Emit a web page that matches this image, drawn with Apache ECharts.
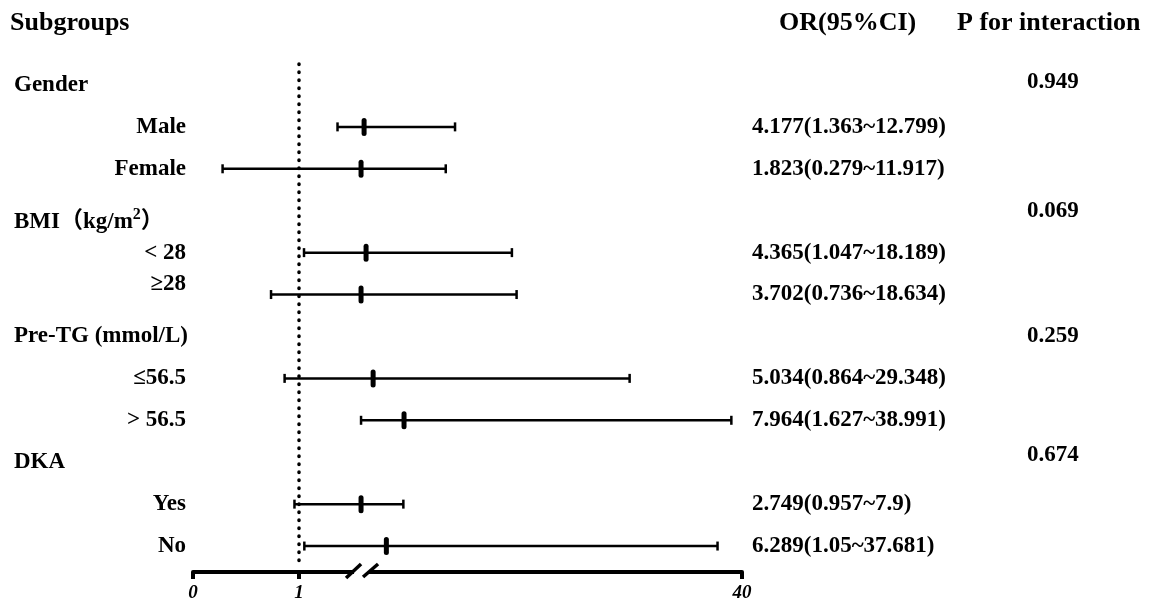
<!DOCTYPE html>
<html>
<head>
<meta charset="utf-8">
<script src="https://cdn.jsdelivr.net/npm/echarts@6/dist/echarts.min.js"></script>
<style>
  html, body { margin: 0; padding: 0; background: #fff; }
  #chart { width: 1163px; height: 606px; }
</style>
</head>
<body>
<div id="chart"></div>
<script>
// groups, their p for interaction and the subgroup rows under each
const groups = ['Gender', 'BMI（kg/m{sup|2}）', 'Pre-TG (mmol/L)', 'DKA'];
const pInteraction = ['0.949', '0.069', '0.259', '0.674'];
const subgroups = [['Male', 'Female'], ['< 28', '≥28'], ['≤56.5', '> 56.5'], ['Yes', 'No']];

// OR and 95% CI, in subgroup order
const orValues = [4.177, 1.823, 4.365, 3.702, 5.034, 7.964, 2.749, 6.289];
const ciLower = [1.363, 0.279, 1.047, 0.736, 0.864, 1.627, 0.957, 1.05];
const ciUpper = [12.799, 11.917, 18.189, 18.634, 29.348, 38.991, 7.9, 37.681];

// x axis ticks (axis is broken after 1)
const tickValues = [0, 1, 40];

// broken scale: 0..1 full width, then compressed part up to 40
const BREAK_AT = 1.585;
const SEG2_OFFSET = 1.198;
const SEG2_SLOPE = 0.0995;
const toAxis = (v) => v <= BREAK_AT ? v : Math.max(BREAK_AT, SEG2_OFFSET + SEG2_SLOPE * v);

const FONT = '"Liberation Serif", "Times New Roman", "Noto Sans CJK SC", serif';
const BLACK = '#000000';

// a few labels sit a bit off their row in the original
const labelNudge = { 'BMI（kg/m{sup|2}）': 11, '≥28': -10, '0.674': -7, '0.949': -3 };
const nudged = (text, align) => {
  const n = labelNudge[text];
  if (!n) return text;
  return { value: text, textStyle: { align: align, padding: n > 0 ? [2 * n, 0, 0, 0] : [0, 0, -2 * n, 0] } };
};

// build the row list (header row + subgroup rows)
const headerLabels = [];
const subLabels = [];
const orLabels = [];
const pLabels = [];
const ciData = [];
let k = 0;
groups.forEach((g, gi) => {
  headerLabels.push(nudged(g, 'left'));
  subLabels.push('');
  orLabels.push('');
  pLabels.push(nudged(pInteraction[gi], 'left'));
  subgroups[gi].forEach((s) => {
    const row = headerLabels.length;
    headerLabels.push('');
    subLabels.push(nudged(s, 'right'));
    orLabels.push(orValues[k] + '(' + ciLower[k] + '~' + ciUpper[k] + ')');
    pLabels.push('');
    ciData.push([row, toAxis(ciLower[k]), toAxis(ciUpper[k]), toAxis(orValues[k])]);
    k++;
  });
});

const GRID = { left: 193, right: 421, top: 64, bottom: 39, outerBoundsMode: 'none' };
const X_OFFSET = 5;

const catAxis = (data, position, align, margin) => ({
  type: 'category',
  data: data,
  inverse: true,
  position: position,
  boundaryGap: true,
  axisLine: { show: false },
  axisTick: { show: false },
  splitLine: { show: false },
  axisLabel: {
    interval: 0,
    align: align,
    margin: margin,
    color: BLACK,
    fontFamily: FONT,
    fontWeight: 'bold',
    fontSize: 23,
    rich: {
      sup: { fontFamily: FONT, fontWeight: 'bold', fontSize: 16, color: BLACK, padding: [0, 0, 14, 0] }
    }
  }
});

const chart = echarts.init(document.getElementById('chart'));

const colTitle = (text, left) => ({
  text: text,
  left: left,
  top: 5,
  textStyle: { color: BLACK, fontFamily: FONT, fontWeight: 'bold', fontSize: 26 }
});

chart.setOption({
  animation: false,
  backgroundColor: '#ffffff',
  title: [
    colTitle('Subgroups', 5),
    colTitle('OR(95%CI)', 774),
    colTitle('P for interaction', 952)
  ],
  grid: GRID,
  xAxis: {
    type: 'value',
    min: 0,
    max: toAxis(tickValues[tickValues.length - 1]),
    offset: X_OFFSET,
    splitLine: { show: false },
    axisLine: { show: true, lineStyle: { color: BLACK, width: 4 } },
    axisTick: {
      show: true,
      length: 7,
      customValues: tickValues.map(toAxis),
      lineStyle: { color: BLACK, width: 4 }
    },
    axisLabel: {
      customValues: tickValues.map(toAxis),
      margin: 12,
      color: BLACK,
      fontFamily: FONT,
      fontWeight: 'bold',
      fontStyle: 'italic',
      fontSize: 19,
      formatter: (val) => {
        let best = 0;
        tickValues.forEach((t, i) => {
          if (Math.abs(toAxis(t) - val) < Math.abs(toAxis(tickValues[best]) - val)) best = i;
        });
        return String(tickValues[best]);
      }
    }
  },
  yAxis: [
    catAxis(headerLabels, 'left', 'left', 179),
    catAxis(subLabels, 'left', 'right', 7),
    catAxis(orLabels, 'right', 'left', 10),
    catAxis(pLabels, 'right', 'left', 285)
  ],
  series: [
    {
      type: 'custom',
      yAxisIndex: 1,
      data: ciData,
      encode: { x: [1, 2, 3], y: 0 },
      clip: false,
      renderItem: (params, api) => {
        const lo = api.coord([api.value(1), api.value(0)]);
        const hi = api.coord([api.value(2), api.value(0)]);
        const pt = api.coord([api.value(3), api.value(0)]);
        const style = { stroke: BLACK, lineWidth: 2.5 };
        return {
          type: 'group',
          children: [
            { type: 'line', shape: { x1: lo[0], y1: lo[1], x2: hi[0], y2: hi[1] }, style: style },
            { type: 'line', shape: { x1: lo[0], y1: lo[1] - 4.5, x2: lo[0], y2: lo[1] + 4.5 }, style: style },
            { type: 'line', shape: { x1: hi[0], y1: hi[1] - 4.5, x2: hi[0], y2: hi[1] + 4.5 }, style: style },
            { type: 'rect', shape: { x: pt[0] - 2.5, y: pt[1] - 9, width: 5, height: 18, r: 2.5 }, style: { fill: BLACK } }
          ]
        };
      },
      markLine: {
        silent: true,
        symbol: 'none',
        label: { show: false },
        lineStyle: { color: BLACK, width: 3.5, type: [0.5, 7.5], cap: 'round' },
        data: [{ xAxis: toAxis(1) }]
      }
    }
  ]
});

// break marks on the x axis
const bx = chart.convertToPixel({ xAxisIndex: 0 }, BREAK_AT);
const ay = chart.getHeight() - GRID.bottom + X_OFFSET;
chart.setOption({
  graphic: [
    { type: 'rect', z: 100, shape: { x: bx - 7, y: ay - 5, width: 15, height: 10 }, style: { fill: '#ffffff' } },
    { type: 'line', z: 101, shape: { x1: bx - 15, y1: ay + 6, x2: bx, y2: ay - 8 }, style: { stroke: BLACK, lineWidth: 3.5 } },
    { type: 'line', z: 101, shape: { x1: bx + 2, y1: ay + 5, x2: bx + 17, y2: ay - 8 }, style: { stroke: BLACK, lineWidth: 3.5 } }
  ]
});

window.addEventListener('resize', () => chart.resize());
</script>
</body>
</html>
